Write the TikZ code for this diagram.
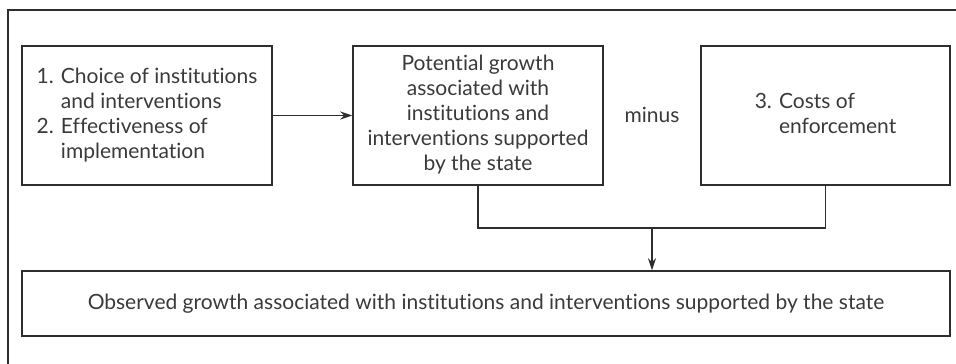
\documentclass[tikz,border=0pt]{standalone}
\usepackage{fontspec}
\setmainfont{Lato}[Ligatures={NoCommon}]
\usetikzlibrary{arrows.meta}
\definecolor{ink}{HTML}{2E2E2E}
\definecolor{txt}{HTML}{3A3A3A}
\begin{document}
\begin{tikzpicture}[x=1pt,y=-1pt,
  box/.style={draw=ink,line width=1.5pt,minimum width=#1,minimum height=139pt,inner sep=0pt,align=center,text=txt},
  box/.default=250pt,
  lbl/.style={text=txt,inner sep=0pt},
  conn/.style={draw=ink,line width=1.5pt},
  tip/.style={-{Stealth[length=12pt,width=8pt]}},
  font=\fontsize{21}{25}\selectfont]
\useasboundingbox (0,0) rectangle (956,364);
\draw[conn] (8,364) -- (8,10) -- (956,10);
\node[box] (b1) at (147,115.5) {\begin{tabular}{@{}r@{ }l@{}}1.&Choice of institutions\\&and interventions\\2.&Effectiveness of\\&implementation\end{tabular}};
\node[box] (b2) at (478,115.5) {\begin{tabular}{@{}c@{}}Potential growth\\associated with\\institutions and\\interventions supported\\by the state\end{tabular}};
\node[lbl] (minus) at (652,115) {minus};
\node[box=249pt] (b3) at (825.5,115.5) {\begin{tabular}{@{}r@{ }l@{}}3.&Costs of\\&enforcement\end{tabular}};
\node[box=928pt,minimum height=65pt] (b4) at (486,303.5) {Observed growth associated with institutions and interventions supported by the state};
\coordinate (m) at (652,228);
\draw[conn,tip] (b1) -- (b2);
\draw[conn] (b2.south) |- (m) -| (b3.south);
\draw[conn,tip] (m) -- (m |- b4.north);
\end{tikzpicture}
\end{document}
